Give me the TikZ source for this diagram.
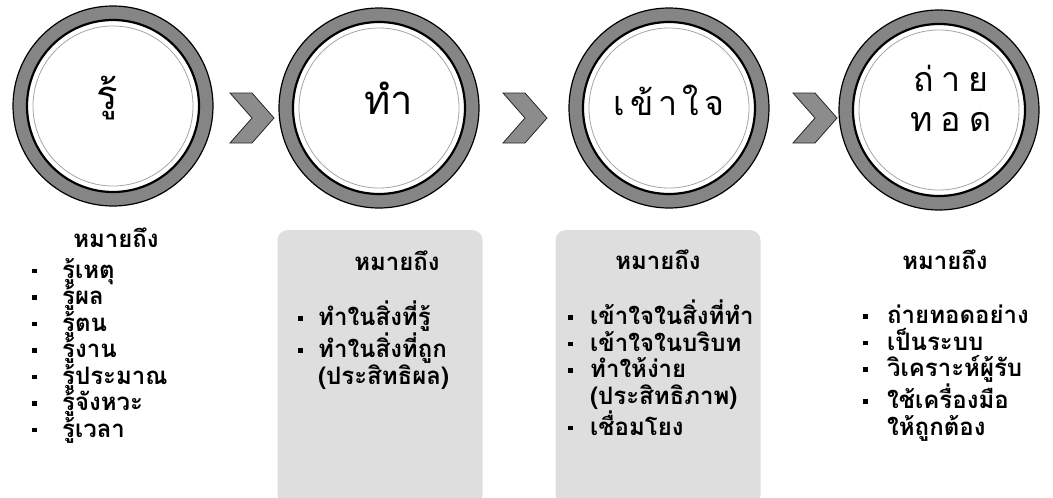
\documentclass[tikz,border=0pt]{standalone}
\usepackage{fontspec}
\newfontfamily\thaifont[Script=Thai]{Loma}
\definecolor{RingGray}{gray}{0.52}
\definecolor{PanelGray}{gray}{0.87}
\definecolor{ChevGray}{gray}{0.55}
\newcommand\blt[1][20pt]{\makebox[#1][l]{\rule[5pt]{4.5pt}{4.5pt}}}

\begin{document}
\begin{tikzpicture}[
  x=1pt, y=-1pt,
  ring/.style={circle, draw, line width=1.2pt, fill=RingGray, minimum size=200pt, inner sep=0pt},
  core/.style={circle, draw, line width=2.2pt, fill=white, minimum size=172pt, inner sep=0pt, align=center,
    path picture={\draw[gray!70, line width=0.8pt] (path picture bounding box.center) circle[radius=80];}},
  big/.style={font=\thaifont\fontsize{40}{40}\selectfont},
  spaced/.style={font=\thaifont\fontsize{34}{40}\selectfont},
  panel/.style={rounded corners=10pt, fill=PanelGray, minimum width=205pt, minimum height=275pt, anchor=north},
  head/.style={anchor=base, inner sep=0pt, font=\thaifont\bfseries\fontsize{24}{26}\selectfont},
  items/.style={anchor=base west, inner sep=0pt, align=left, font=\thaifont\bfseries\fontsize{24}{26.5}\selectfont},
  chev/.pic={\filldraw[fill=ChevGray, draw=gray!30!black, line width=0.8pt]
    (-22,-25) -- (0,-25) -- (22,0) -- (0,25) -- (-22,25) -- (0,0) -- cycle;}
]
\useasboundingbox (0,0) rectangle (1053,498);

% shaded panels behind the middle columns
\node[panel] (panel2) at (380,230) {};
\node[panel] (panel3) at (658,230) {};

% the four rings
\node[ring] (ring1) at (113,106) {};
\node[core] (know) at (ring1) {};
\node[big] (knowtxt) at ([xshift=-6pt, yshift=8pt]ring1) {รู้};
\node[ring] (ring2) at (379,108) {};
\node[core] (do) at (ring2) {};
\node[big] (dotxt) at ([xshift=10pt, yshift=10pt]ring2) {ทำ};
\node[ring] (ring3) at (669,108) {};
\node[core] (understand) at (ring3) {};
\node[spaced] (understandtxt) at ([yshift=8pt]ring3) {เ\kern5pt ข้\kern5pt า\kern5pt ใ\kern5pt จ};
\node[ring] (ring4) at (939,110) {};
\node[core] (transfer) at (ring4) {};
\node[spaced, align=center] (transfertxt) at ([xshift=12pt, yshift=12pt]ring4) {ถ่\kern8pt า\kern8pt ย\\ ท\kern8pt อ\kern8pt ด};

% chevrons between the rings
\pic at (252,118) {chev};
\pic at (525,118) {chev};
\pic at (815,118) {chev};

% meanings
\node[head] (mean1) at (116,247) {หมายถึง};
\node[items] (list1) at (32,437) {\blt[30pt]รู้เหตุ\\ \blt[30pt]รู้ผล\\ \blt[30pt]รู้ตน\\
  \blt[30pt]รู้งาน\\ \blt[30pt]รู้ประมาณ\\ \blt[30pt]รู้จังหวะ\\ \blt[30pt]รู้เวลา};

\node[head] (mean2) at (397,270) {หมายถึง};
\node[items] (list2) at (298,384) {\blt[20pt]ทำในสิ่งที่รู้\\ \blt[20pt]ทำในสิ่งที่ถูก\\
  \hphantom{\blt[20pt]}(ประสิทธิผล)};

\node[head] (mean3) at (658,269) {หมายถึง};
\node[items] (list3) at (568,435) {\blt[22pt]เข้าใจในสิ่งที่ทำ\\ \blt[22pt]เข้าใจในบริบท\\
  \blt[22pt]ทำให้ง่าย\\ \hphantom{\blt[22pt]}(ประสิทธิภาพ)\\ \blt[22pt]เชื่อมโยง};

\node[head] (mean4) at (945,269) {หมายถึง};
\node[items] (list4) at (863,435) {\blt[24pt]ถ่ายทอดอย่าง\\ \blt[24pt]เป็นระบบ\\
  \blt[24pt]วิเคราะห์ผู้รับ\\ \blt[24pt]ใช้เครื่องมือ\\ \hphantom{\blt[24pt]}ให้ถูกต้อง};
\end{tikzpicture}
\end{document}
